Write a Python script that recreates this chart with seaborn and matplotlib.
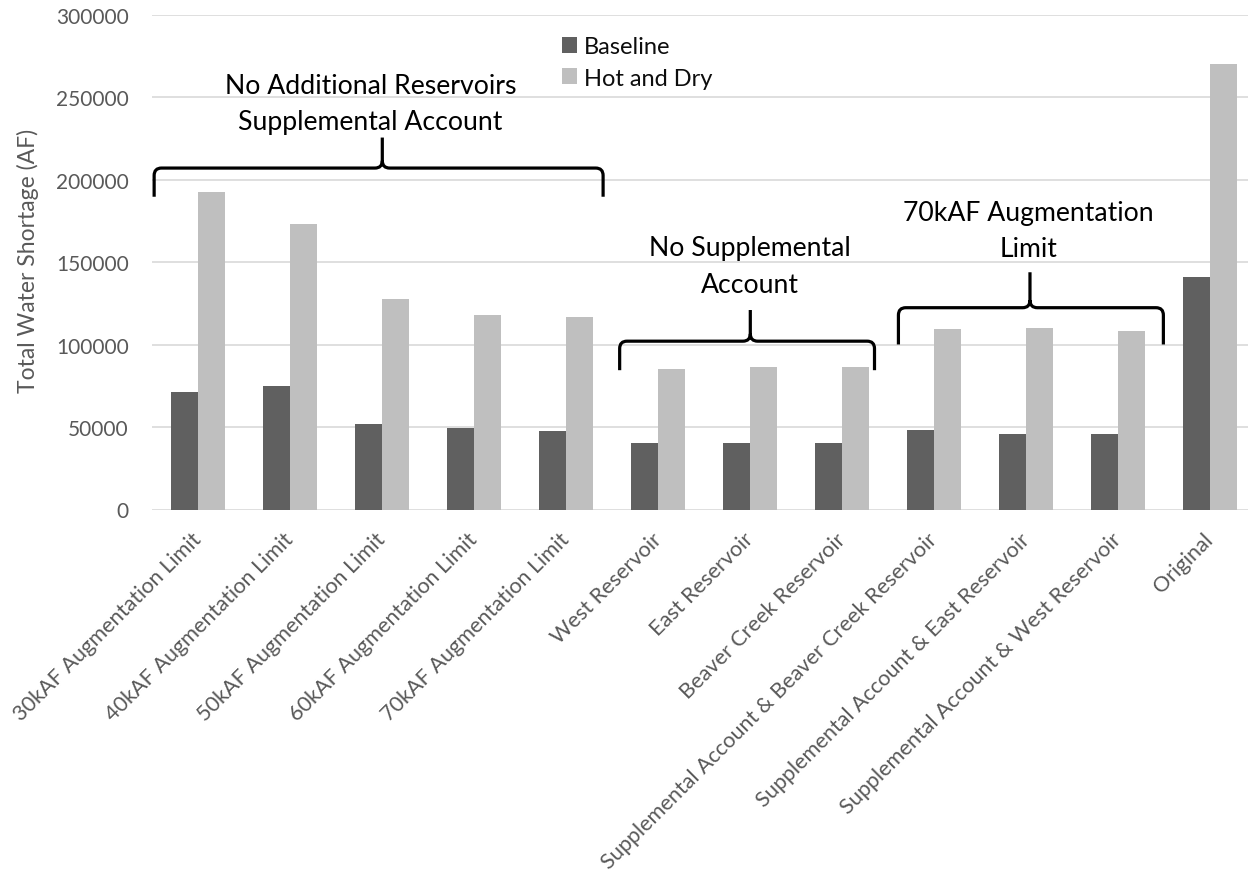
import matplotlib
matplotlib.use("Agg")
import matplotlib.pyplot as plt
from matplotlib.path import Path
from matplotlib.patches import PathPatch
import pandas as pd
import seaborn as sns

# ---- data -------------------------------------------------------------
categories = [
    "30kAF Augmentation Limit",
    "40kAF Augmentation Limit",
    "50kAF Augmentation Limit",
    "60kAF Augmentation Limit",
    "70kAF Augmentation Limit",
    "West Reservoir",
    "East Reservoir",
    "Beaver Creek Reservoir",
    "Supplemental Account & Beaver Creek Reservoir",
    "Supplemental Account & East Reservoir",
    "Supplemental Account & West Reservoir",
    "Original",
]
baseline = [71400, 75000, 51700, 49600, 47600, 40200, 40200, 40200,
            48000, 45900, 45900, 141100]
hot_and_dry = [192300, 173100, 127700, 117900, 116500, 85100, 86700, 86700,
               109500, 110300, 108500, 270200]
series_names = ["Baseline", "Hot and Dry"]
y_ticks = [0, 50000, 100000, 150000, 200000, 250000, 300000]
y_label = "Total Water Shortage (AF)"

group_labels = [
    "No Additional Reservoirs\nSupplemental Account",
    "No Supplemental\nAccount",
    "70kAF Augmentation\nLimit",
]

# ---- style ------------------------------------------------------------
sns.set_theme(style="white")
plt.rcParams["font.family"] = ["Lato", "DejaVu Sans"]

colors = {"Baseline": "#606060", "Hot and Dry": "#bfbfbf"}
axis_grey = "#595959"

df = pd.DataFrame({
    "category": categories * 2,
    "value": baseline + hot_and_dry,
    "series": [series_names[0]] * len(categories) + [series_names[1]] * len(categories),
})

W, H = 1248, 879
fig = plt.figure(figsize=(W / 100, H / 100), dpi=100)
left_px, right_px, top_px, bottom_px = 152.3, 1256.3, 15.9, 510.5
ax = fig.add_axes([left_px / W, 1 - bottom_px / H,
                   (right_px - left_px) / W, (bottom_px - top_px) / H])

sns.barplot(data=df, x="category", y="value", hue="series", order=categories,
            hue_order=series_names, palette=colors, width=0.585,
            saturation=1, linewidth=0, ax=ax)

ax.set_xlim(-0.5, len(categories) - 0.5)
ax.set_ylim(0, 300000)
ax.set_yticks(y_ticks)
ax.set_yticklabels([str(t) for t in y_ticks])
ax.yaxis.grid(True, color="#d9d9d9", linewidth=1.2)
ax.set_axisbelow(True)
for s in ax.spines.values():
    s.set_visible(False)

ax.tick_params(axis="y", length=0, pad=17, labelsize=15, labelcolor=axis_grey)
ax.tick_params(axis="x", length=0, pad=19, labelsize=15.6, labelcolor=axis_grey)
ax.set_xlabel("")
ax.set_ylabel(y_label, fontsize=16.5, color=axis_grey)
ax.yaxis.label.set_verticalalignment("center")
ax.yaxis.set_label_coords(-0.113, 0.505)

for lab in ax.get_xticklabels():
    lab.set_rotation(45)
    lab.set_ha("right")
    lab.set_va("center")
    lab.set_rotation_mode("anchor")

# legend
handles, labels = ax.get_legend_handles_labels()
ax.legend(handles, labels, loc="upper left",
          bbox_to_anchor=(561.7 / W, 1 - 37 / H), bbox_transform=fig.transFigure,
          frameon=False, fontsize=17, handlelength=0.66, handleheight=0.66,
          handletextpad=0.3, labelspacing=0.45, borderpad=0, borderaxespad=0,
          labelcolor="#0d0d0d")


# ---- curly braces grouping the scenarios -------------------------------
def brace(ax, x0, xm, x1, y_end, y_bar, y_tip, rx=0.08, ry=4500, lw=2.3):
    M, L, C = Path.MOVETO, Path.LINETO, Path.CURVE3
    verts = [
        (x0, y_end), (x0, y_bar - ry), (x0, y_bar), (x0 + rx, y_bar),
        (xm - rx, y_bar), (xm, y_bar), (xm, y_bar + ry), (xm, y_tip),
        (xm, y_bar + ry), (xm, y_bar), (xm + rx, y_bar),
        (x1 - rx, y_bar), (x1, y_bar), (x1, y_bar - ry), (x1, y_end),
    ]
    codes = [M, L, C, C, L, C, C, L, M, C, C, L, C, C, L]
    ax.add_patch(PathPatch(Path(verts, codes), fill=False, edgecolor="black",
                           linewidth=lw, capstyle="butt", joinstyle="round",
                           clip_on=False))


# (left, middle, right) in category units; (end, bar, tip) in AF
brace_x = [(-0.48, 2.00, 4.40), (4.58, 6.00, 7.35), (7.61, 9.04, 10.49)]
brace_y = [(189700, 207100, 225600), (84500, 102100, 121000),
           (100100, 122400, 143900)]
label_pos = [(1.87, 246200), (6.00, 147700), (9.02, 169300)]

for (x0, xm, x1), (ye, yb, yt) in zip(brace_x, brace_y):
    brace(ax, x0, xm, x1, ye, yb, yt)
for text, (tx, ty) in zip(group_labels, label_pos):
    ax.text(tx, ty, text, ha="center", va="center", fontsize=19.2,
            color="black", linespacing=1.57)

fig.savefig("out.png", dpi=100)
